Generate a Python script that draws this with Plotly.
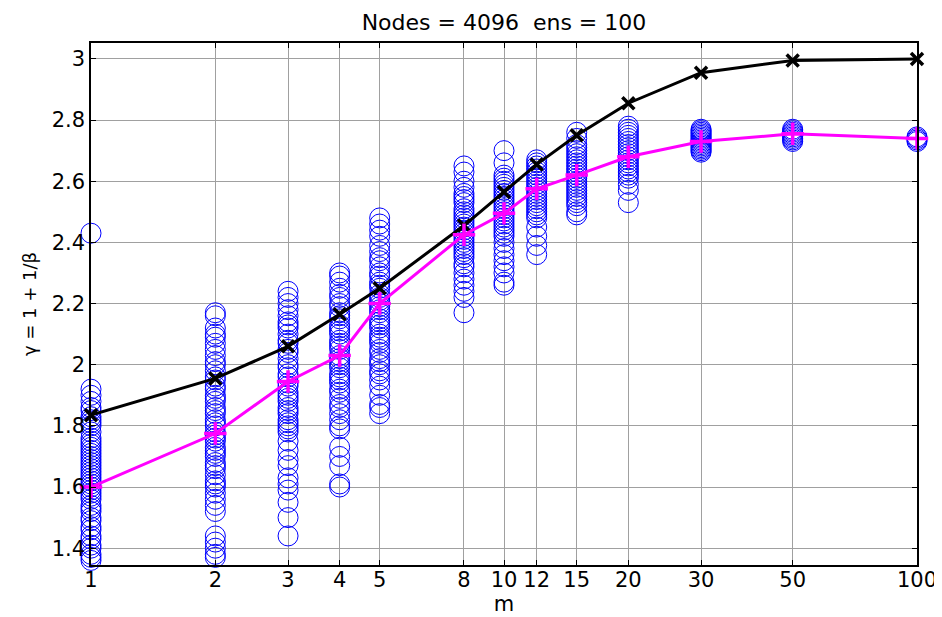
import plotly.graph_objects as go

# ---- data ----
m_values = [1, 2, 3, 4, 5, 8, 10, 12, 15, 20, 30, 50, 100]
gamma_black = [1.835, 1.955, 2.06, 2.165, 2.25, 2.455, 2.565, 2.655, 2.75, 2.855, 2.955, 2.995, 3.0]
gamma_magenta = [1.60, 1.775, 1.945, 2.03, 2.20, 2.425, 2.495, 2.575, 2.62, 2.68, 2.73, 2.755, 2.74]

ens_m1 = [1.36, 1.37, 1.38, 1.40, 1.41, 1.43, 1.44, 1.46, 1.47, 1.49, 1.50, 1.52, 1.53, 1.54,
          1.56, 1.57, 1.58, 1.59, 1.60, 1.61, 1.62, 1.63, 1.64, 1.65, 1.66, 1.67, 1.68, 1.69,
          1.70, 1.71, 1.72, 1.73, 1.74, 1.75, 1.76, 1.78, 1.80, 1.81, 1.82, 1.83, 1.85, 1.86,
          1.88, 1.90, 1.92, 2.43]
ens_m2 = [2.17, 2.16, 2.12, 2.10, 2.09, 2.07, 2.05, 2.03, 2.01, 2.00, 1.98, 1.96, 1.95, 1.93,
          1.92, 1.90, 1.89, 1.88, 1.86, 1.85, 1.84, 1.82, 1.81, 1.80, 1.78, 1.77, 1.76, 1.75,
          1.73, 1.72, 1.71, 1.70, 1.68, 1.67, 1.66, 1.64, 1.62, 1.61, 1.60, 1.58, 1.56, 1.54,
          1.52, 1.44, 1.42, 1.40, 1.38, 1.37]
ens_m3 = [2.24, 2.22, 2.20, 2.18, 2.16, 2.14, 2.13, 2.12, 2.10, 2.08, 2.07, 2.05, 2.04, 2.02,
          2.00, 1.99, 1.97, 1.96, 1.94, 1.93, 1.91, 1.90, 1.89, 1.88, 1.86, 1.85, 1.84, 1.82,
          1.81, 1.80, 1.79, 1.78, 1.75, 1.72, 1.69, 1.67, 1.63, 1.61, 1.59, 1.55, 1.50, 1.44]
ens_m4 = [2.30, 2.29, 2.27, 2.25, 2.23, 2.22, 2.20, 2.19, 2.17, 2.16, 2.15, 2.13, 2.12, 2.11,
          2.10, 2.08, 2.07, 2.06, 2.05, 2.03, 2.02, 2.01, 2.00, 1.99, 1.97, 1.96, 1.95, 1.94,
          1.92, 1.91, 1.89, 1.87, 1.86, 1.84, 1.82, 1.80, 1.79, 1.73, 1.70, 1.67, 1.61, 1.60]
ens_m5 = [2.48, 2.46, 2.44, 2.42, 2.39, 2.37, 2.35, 2.34, 2.32, 2.30, 2.29, 2.27, 2.26, 2.25,
          2.23, 2.22, 2.21, 2.20, 2.19, 2.18, 2.17, 2.15, 2.14, 2.13, 2.12, 2.10, 2.09, 2.08,
          2.07, 2.05, 2.04, 2.02, 2.01, 2.00, 1.98, 1.97, 1.95, 1.93, 1.90, 1.87, 1.86, 1.84]
ens_m8 = [2.65, 2.63, 2.60, 2.58, 2.56, 2.55, 2.54, 2.53, 2.51, 2.50, 2.49, 2.48, 2.47, 2.46,
          2.45, 2.44, 2.43, 2.42, 2.41, 2.40, 2.39, 2.38, 2.37, 2.36, 2.35, 2.33, 2.32, 2.30,
          2.28, 2.26, 2.24, 2.22, 2.17]
ens_m10 = [2.70, 2.66, 2.62, 2.61, 2.60, 2.59, 2.58, 2.57, 2.56, 2.55, 2.54, 2.53, 2.52, 2.51,
           2.50, 2.49, 2.48, 2.47, 2.46, 2.45, 2.44, 2.43, 2.42, 2.40, 2.38, 2.36, 2.34, 2.32,
           2.30, 2.27, 2.26]
ens_m12 = [2.67, 2.66, 2.65, 2.64, 2.63, 2.62, 2.61, 2.60, 2.59, 2.58, 2.57, 2.56, 2.55, 2.54,
           2.53, 2.52, 2.51, 2.50, 2.49, 2.48, 2.45, 2.42, 2.39, 2.36]
ens_m15 = [2.76, 2.74, 2.72, 2.71, 2.70, 2.69, 2.68, 2.67, 2.66, 2.65, 2.64, 2.63, 2.62, 2.61,
           2.60, 2.59, 2.58, 2.57, 2.56, 2.55, 2.54, 2.53, 2.52, 2.50, 2.49]
ens_m20 = [2.78, 2.77, 2.76, 2.75, 2.74, 2.73, 2.72, 2.71, 2.70, 2.69, 2.68, 2.67, 2.66, 2.65,
           2.64, 2.63, 2.62, 2.61, 2.59, 2.57, 2.53]
ens_m30 = [2.77, 2.765, 2.76, 2.755, 2.75, 2.745, 2.74, 2.735, 2.73, 2.725, 2.72, 2.715, 2.71,
           2.705, 2.70, 2.695]
ens_m50 = [2.77, 2.765, 2.76, 2.755, 2.75, 2.745, 2.74, 2.735, 2.73]
ens_m100 = [2.745, 2.74, 2.735, 2.73]

x_ticks = [1, 2, 3, 4, 5, 8, 10, 12, 15, 20, 30, 50, 100]
x_tick_labels = ["1", "2", "3", "4", "5", "8", "10", "12", "15", "20", "30", "50", "100"]
y_ticks = [1.4, 1.6, 1.8, 2.0, 2.2, 2.4, 2.6, 2.8, 3.0]
y_tick_labels = ["1.4", "1.6", "1.8", "2", "2.2", "2.4", "2.6", "2.8", "3"]

ensembles = [ens_m1, ens_m2, ens_m3, ens_m4, ens_m5, ens_m8, ens_m10, ens_m12,
             ens_m15, ens_m20, ens_m30, ens_m50, ens_m100]

sx, sy = [], []
for m, vals in zip(m_values, ensembles):
    sx.extend([m] * len(vals))
    sy.extend(vals)

FONT = "DejaVu Sans, Arial, sans-serif"

fig = go.Figure()
fig.add_trace(go.Scatter(
    x=sx, y=sy, mode="markers", cliponaxis=False,
    marker=dict(symbol="circle-open", size=20, color="#0000ff", line=dict(width=1, color="#0000ff")),
    showlegend=False, hoverinfo="x+y"))
fig.add_trace(go.Scatter(
    x=m_values, y=gamma_black, mode="lines+markers", cliponaxis=False,
    line=dict(color="black", width=3),
    marker=dict(symbol="x-thin-open", size=12, color="black", line=dict(width=3.5, color="black")),
    showlegend=False))
fig.add_trace(go.Scatter(
    x=m_values, y=gamma_magenta, mode="lines+markers", cliponaxis=False,
    line=dict(color="#ff00ff", width=3),
    marker=dict(symbol="cross-thin-open", size=16, color="#ff00ff", line=dict(width=3.5, color="#ff00ff")),
    showlegend=False))

axis_common = dict(
    showline=True, linecolor="black", linewidth=1.5, mirror="allticks",
    ticks="inside", ticklen=5, tickcolor="black", automargin=False,
    showgrid=True, gridcolor="#a0a0a0", gridwidth=1, zeroline=False,
    tickfont=dict(family=FONT, size=21, color="black"),
)

fig.update_xaxes(type="log", range=[0, 2], tickvals=x_ticks, ticktext=x_tick_labels,
                 ticklabelstandoff=-5,
                 title=dict(text="m", font=dict(family=FONT, size=21, color="black"), standoff=5),
                 **axis_common)
fig.update_yaxes(range=[1.345, 3.052], tickvals=y_ticks, ticktext=y_tick_labels,
                 title=dict(text="γ = 1 + 1/β", font=dict(family=FONT, size=18, color="black"), standoff=10),
                 **axis_common)

# the page body adds an 8px offset, so margins are shifted accordingly
fig.update_layout(
    width=942, height=617,
    margin=dict(l=83, r=33, t=35, b=60),
    paper_bgcolor="white", plot_bgcolor="white",
    title=dict(text="Nodes = 4096  ens = 100", x=0.5265, xanchor="center", y=0.977, yanchor="middle",
               font=dict(family=FONT, size=22, color="black")),
)

fig.write_html("out.html")
